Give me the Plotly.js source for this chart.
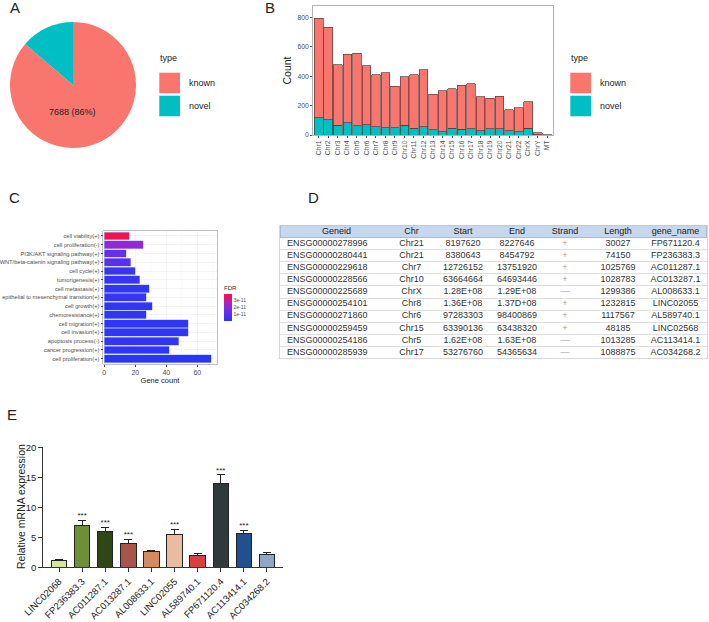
<!DOCTYPE html>
<html>
<head>
<meta charset="utf-8">
<script src="https://cdn.plot.ly/plotly-3.0.1.min.js"></script>
<style>
  html, body { margin: 0; padding: 0; background: #ffffff; }
  #fig { width: 709px; height: 622px; }
</style>
</head>
<body>
<div id="fig"></div>
<script>
// ---- A / B: lncRNA counts by type and chromosome ----
const types = ['known', 'novel'];
const typeTotals = [7688, 1222];
const chromosomes = ['Chr1', 'Chr2', 'Chr3', 'Chr4', 'Chr5', 'Chr6', 'Chr7', 'Chr8', 'Chr9', 'Chr10',
  'Chr11', 'Chr12', 'Chr13', 'Chr14', 'Chr15', 'Chr16', 'Chr17', 'Chr18', 'Chr19', 'Chr20',
  'Chr21', 'Chr22', 'ChrX', 'ChrY', 'MT'];
const knownCounts = [678, 630, 412, 465, 491, 401, 353, 376, 281, 329, 363, 389, 242, 280, 268,
  300, 303, 232, 207, 223, 144, 165, 182, 15, 1];
const novelCounts = [117, 103, 66, 84, 64, 71, 57, 48, 50, 66, 47, 55, 35, 22, 45,
  38, 44, 29, 42, 42, 29, 21, 45, 2, 0];

// ---- C: functional enrichment ----
const terms = ['cell viability(+)', 'cell proliferation(-)', 'PI3K/AKT signaling pathway(+)',
  'WNT/beta-catenin signaling pathway(+)', 'cell cycle(+)', 'tumorigenesis(+)', 'cell metastasis(+)',
  'epithelial to mesenchymal transition(+)', 'cell growth(+)', 'chemoresistance(+)', 'cell migration(+)',
  'cell invasion(+)', 'apoptosis process(-)', 'cancer progression(+)', 'cell proliferation(+)'];
const geneCounts = [16, 25, 14, 17, 20, 23, 29, 27, 31, 27, 54, 54, 48, 42, 69];
const fdr = [3.9e-11, 2.1e-11, 1.4e-11, 1.15e-11, 0.45e-11, 0.4e-11, 0.35e-11, 0.35e-11,
  0.3e-11, 0.3e-11, 0.25e-11, 0.25e-11, 0.25e-11, 0.2e-11, 0.1e-11];
const fdrTicks = [1e-11, 2e-11, 3e-11];
const fdrTickText = ['1e-11', '2e-11', '3e-11'];

// ---- D: candidate lncRNAs ----
const tableHeader = ['Geneid', 'Chr', 'Start', 'End', 'Strand', 'Length', 'gene_name'];
const geneIds = ['ENSG00000278996', 'ENSG00000280441', 'ENSG00000229618', 'ENSG00000228566',
  'ENSG00000225689', 'ENSG00000254101', 'ENSG00000271860', 'ENSG00000259459',
  'ENSG00000254186', 'ENSG00000285939'];
const chrs = ['Chr21', 'Chr21', 'Chr7', 'Chr10', 'ChrX', 'Chr8', 'Chr6', 'Chr15', 'Chr5', 'Chr17'];
const starts = ['8197620', '8380643', '12726152', '63664664', '1.28E+08', '1.36E+08', '97283303',
  '63390136', '1.62E+08', '53276760'];
const ends = ['8227646', '8454792', '13751920', '64693446', '1.29E+08', '1.37D+08', '98400869',
  '63438320', '1.63E+08', '54365634'];
const strands = ['+', '+', '+', '+', '\u2014', '+', '+', '+', '\u2014', '\u2014'];
const lengths = ['30027', '74150', '1025769', '1028783', '1299386', '1232815', '1117567',
  '48185', '1013285', '1088875'];
const geneNames = ['FP671120.4', 'FP236383.3', 'AC011287.1', 'AC013287.1', 'AL008633.1',
  'LINC02055', 'AL589740.1', 'LINC02568', 'AC113414.1', 'AC034268.2'];

// ---- E: qPCR validation ----
const genes = ['LINC02068', 'FP236383.3', 'AC011287.1', 'AC013287.1', 'AL008633.1', 'LINC02055',
  'AL589740.1', 'FP671120.4', 'AC113414.1', 'AC034268.2'];
const expression = [1.05, 6.95, 5.95, 3.95, 2.6, 5.4, 1.9, 14.0, 5.6, 2.05];
const expressionErr = [0.22, 0.85, 0.7, 0.75, 0.28, 0.9, 0.32, 1.4, 0.55, 0.45];
const significance = ['', '***', '***', '***', '', '***', '', '***', '***', ''];

// styling
const FONT = 'Liberation Sans, Arial, Helvetica, sans-serif';
const W = 709, H = 622;
const px = x => x / W;
const py = y => 1 - y / H;
const typeColors = ['#F8766D', '#00BFC4'];
const qpcrColors = ['#D6E49C', '#6F8F36', '#2E4715', '#A9544B', '#D48B5D', '#E9BBA0',
  '#D8403F', '#2F3B3B', '#21508E', '#8FA6C6'];
const tickGrey = '#4D4D4D';

const traces = [];

// A: pie of known vs novel
traces.push({
  type: 'pie', labels: types, values: typeTotals, sort: false,
  direction: 'counterclockwise', rotation: 0,
  marker: { colors: typeColors, line: { width: 0 } },
  textinfo: 'none', hoverinfo: 'none', showlegend: false,
  domain: { x: [px(10), px(136)], y: [py(148), py(22)] }
});

// B: stacked bars by chromosome (novel at the bottom)
traces.push({
  type: 'bar', x: chromosomes, y: novelCounts, name: types[1], xaxis: 'x', yaxis: 'y',
  marker: { color: typeColors[1], line: { color: '#4a3c3a', width: 0.7 } },
  showlegend: false, hoverinfo: 'none'
});
traces.push({
  type: 'bar', x: chromosomes, y: knownCounts, name: types[0], xaxis: 'x', yaxis: 'y',
  marker: { color: typeColors[0], line: { color: '#5a3a37', width: 0.7 } },
  showlegend: false, hoverinfo: 'none'
});

// C: horizontal bars coloured by FDR
traces.push({
  type: 'bar', orientation: 'h', x: geneCounts, y: terms, xaxis: 'x2', yaxis: 'y2',
  width: 0.9,
  marker: { color: fdr, coloraxis: 'coloraxis', line: { color: 'rgba(170,190,255,0.9)', width: 0.6 } },
  showlegend: false, hoverinfo: 'none'
});

// D: table laid out on its own axes; row 0 is the header
const colWidths = [113, 37, 66, 42, 54, 52, 63];
const colEdges = colWidths.reduce((acc, w) => acc.concat(acc[acc.length - 1] + w), [0]);
const tableWidth = colEdges[colEdges.length - 1];
const tableColumns = [geneIds, chrs, starts, ends, strands, lengths, geneNames];
const rowIndex = geneIds.map((_, i) => i + 1);
tableHeader.forEach((h, c) => {
  const centre = (colEdges[c] + colEdges[c + 1]) / 2;
  traces.push({
    type: 'scatter', mode: 'text', xaxis: 'x4', yaxis: 'y4', x: [centre], y: [0], text: [h],
    textposition: 'middle center', textfont: { family: FONT, size: 9, color: '#222' },
    cliponaxis: false, showlegend: false, hoverinfo: 'none'
  });
  const leftAligned = c === 0;
  traces.push({
    type: 'scatter', mode: 'text', xaxis: 'x4', yaxis: 'y4',
    x: rowIndex.map(() => leftAligned ? colEdges[c] + 7 : centre), y: rowIndex,
    text: tableColumns[c], textposition: leftAligned ? 'middle right' : 'middle center',
    textfont: { family: FONT, size: 9, color: c === 4 ? '#A0A0A0' : '#333' },
    cliponaxis: false, showlegend: false, hoverinfo: 'none'
  });
});

// E: relative expression bars with upper error bars
traces.push({
  type: 'bar', x: genes, y: expression, xaxis: 'x3', yaxis: 'y3', width: 0.67,
  marker: { color: qpcrColors, line: { color: '#222', width: 1 } },
  error_y: { type: 'data', symmetric: false, array: expressionErr,
    arrayminus: expressionErr.map(() => 0), color: '#222', thickness: 1, width: 4 },
  showlegend: false, hoverinfo: 'none'
});
traces.push({
  type: 'scatter', mode: 'text', x: genes, y: expression.map((v, i) => v + expressionErr[i]),
  text: significance, textposition: 'top center', xaxis: 'x3', yaxis: 'y3',
  textfont: { family: FONT, size: 8, color: '#222' }, cliponaxis: false,
  showlegend: false, hoverinfo: 'none'
});

const rowBoundaries = rowIndex.map(r => r - 0.5);

const layout = {
  width: W, height: H,
  margin: { l: 0, r: 0, t: 0, b: 0, pad: 0 },
  paper_bgcolor: '#ffffff', plot_bgcolor: 'rgba(0,0,0,0)',
  font: { family: FONT, color: '#222' },
  barmode: 'stack', bargap: 0.1,
  showlegend: false,
  xaxis: {
    domain: [px(313), px(553)], anchor: 'y', type: 'category', range: [-0.6, 24.6],
    tickangle: -90, tickfont: { size: 6.8, color: tickGrey }, ticks: 'outside', ticklen: 2,
    tickcolor: tickGrey, showline: true, mirror: true, linecolor: '#A0A0A0', linewidth: 0.8,
    showgrid: false, zeroline: false
  },
  yaxis: {
    domain: [py(135), py(6)], anchor: 'x', range: [0, 877], tickvals: [0, 200, 400, 600, 800],
    tickfont: { size: 6.8, color: tickGrey }, ticks: 'outside', ticklen: 2, tickcolor: tickGrey,
    showline: true, mirror: true, linecolor: '#A0A0A0', linewidth: 0.8,
    showgrid: false, zeroline: false,
    title: { text: 'Count', font: { size: 10.5, color: '#222' }, standoff: 3 }
  },
  xaxis2: {
    domain: [px(103.3), px(216.7)], anchor: 'y2', range: [-0.65, 72.5],
    tickvals: [0, 20, 40, 60], tickfont: { size: 7, color: tickGrey }, ticks: 'outside', ticklen: 2,
    tickcolor: tickGrey, showline: true, mirror: true, linecolor: '#B0B0B0', linewidth: 0.8,
    showgrid: true, gridcolor: '#EBEBEB', gridwidth: 0.6, zeroline: false,
    minor: { tickvals: [10, 30, 50, 70], showgrid: true, gridcolor: '#F4F4F4', gridwidth: 0.4, ticks: '' },
    title: { text: 'Gene count', font: { size: 7.5, color: '#222' }, standoff: 2 }
  },
  yaxis2: {
    domain: [py(364), py(230.7)], anchor: 'x2', type: 'category', range: [14.6, -0.6],
    tickfont: { size: 5.7, color: tickGrey }, ticks: 'outside', ticklen: 2, tickcolor: tickGrey,
    showline: true, mirror: true, linecolor: '#B0B0B0', linewidth: 0.8,
    showgrid: true, gridcolor: '#EBEBEB', gridwidth: 0.6, zeroline: false
  },
  coloraxis: {
    cmin: 0.1e-11, cmax: 3.95e-11,
    colorscale: [[0, '#2A36F6'], [0.3, '#5E31EC'], [0.55, '#9A27D4'], [0.8, '#D01A86'], [1, '#F5124A']],
    colorbar: {
      x: px(224), xanchor: 'left', y: py(301.5), yanchor: 'middle',
      thickness: 7.7, thicknessmode: 'pixels', len: 38.4, lenmode: 'pixels',
      xpad: 0, ypad: 0, outlinewidth: 0,
      tickvals: fdrTicks, ticktext: fdrTickText, ticks: '',
      tickfont: { size: 5, color: tickGrey },
      title: { text: 'FDR', side: 'top', font: { size: 6, color: '#333' } }
    }
  },
  xaxis3: {
    domain: [px(43.3), px(282.7)], anchor: 'y3', type: 'category', range: [-0.68, 9.68],
    tickangle: -45, tickfont: { size: 9.5, color: '#222' }, ticks: 'outside', ticklen: 4,
    tickcolor: '#333', showline: true, linecolor: '#333', linewidth: 1,
    showgrid: false, zeroline: false
  },
  yaxis3: {
    domain: [py(567.3), py(447.3)], anchor: 'x3', range: [0, 20], tickvals: [0, 5, 10, 15, 20],
    tickfont: { size: 9.5, color: '#222' }, ticks: 'outside', ticklen: 4, tickcolor: '#333',
    showline: true, linecolor: '#333', linewidth: 1, showgrid: false, zeroline: false
  },
  xaxis4: {
    domain: [px(280), px(707)], anchor: 'y4', range: [0, tableWidth],
    showgrid: false, zeroline: false, showticklabels: false, ticks: '',
    showline: true, mirror: true, linecolor: '#C8C8C8', linewidth: 0.7
  },
  yaxis4: {
    domain: [py(358.5), py(225.5)], anchor: 'x4', range: [rowIndex.length + 0.5, -0.5],
    tickvals: rowBoundaries, showticklabels: false, ticks: '',
    showgrid: true, gridcolor: '#C8C8C8', gridwidth: 0.6, zeroline: false,
    showline: true, mirror: true, linecolor: '#C8C8C8', linewidth: 0.7
  },
  shapes: [
    // header band of the table
    { type: 'rect', xref: 'x4', yref: 'y4', x0: 0, x1: tableWidth, y0: -0.5, y1: 0.5,
      fillcolor: '#C6D7EE', line: { color: '#7F9BCB', width: 0.9 }, layer: 'below' }
  ],
  annotations: [
    { text: 'Relative mRNA expression', textangle: -90, x: px(21), y: py(507),
      xref: 'paper', yref: 'paper', xanchor: 'center', yanchor: 'middle', showarrow: false,
      font: { size: 10.5, color: '#222' } }
  ]
};

// panel letters
[['A', 15, 8], ['B', 270, 8], ['C', 15, 198], ['D', 313, 198], ['E', 12, 414]].forEach(([t, x, y]) => {
  layout.annotations.push({ text: t, x: px(x), y: py(y), xref: 'paper', yref: 'paper',
    xanchor: 'center', yanchor: 'middle', showarrow: false, font: { size: 15, color: '#222' } });
});

// pie label for the known share
const knownShare = Math.round(100 * typeTotals[0] / (typeTotals[0] + typeTotals[1]));
layout.annotations.push({ text: typeTotals[0] + ' (' + knownShare + '%)', x: px(72), y: py(112),
  xref: 'paper', yref: 'paper', xanchor: 'center', yanchor: 'middle', showarrow: false,
  font: { size: 9, color: '#222' } });

// "type" legends beside A and B
function addTypeLegend(x0) {
  layout.annotations.push({ text: 'type', x: px(x0 - 1), y: py(58), xref: 'paper', yref: 'paper',
    xanchor: 'left', yanchor: 'middle', showarrow: false, font: { size: 9, color: '#222' } });
  types.forEach((t, i) => {
    const top = 72.7 + i * 23;
    layout.shapes.push({ type: 'rect', xref: 'paper', yref: 'paper', x0: px(x0), x1: px(x0 + 20.7),
      y0: py(top + 20.6), y1: py(top), fillcolor: typeColors[i], line: { width: 0 } });
    layout.annotations.push({ text: t, x: px(x0 + 28), y: py(top + 10), xref: 'paper', yref: 'paper',
      xanchor: 'left', yanchor: 'middle', showarrow: false, font: { size: 9, color: '#222' } });
  });
}
addTypeLegend(159.3);
addTypeLegend(570.3);

Plotly.newPlot('fig', traces, layout, { displayModeBar: false, staticPlot: true });
</script>
</body>
</html>
